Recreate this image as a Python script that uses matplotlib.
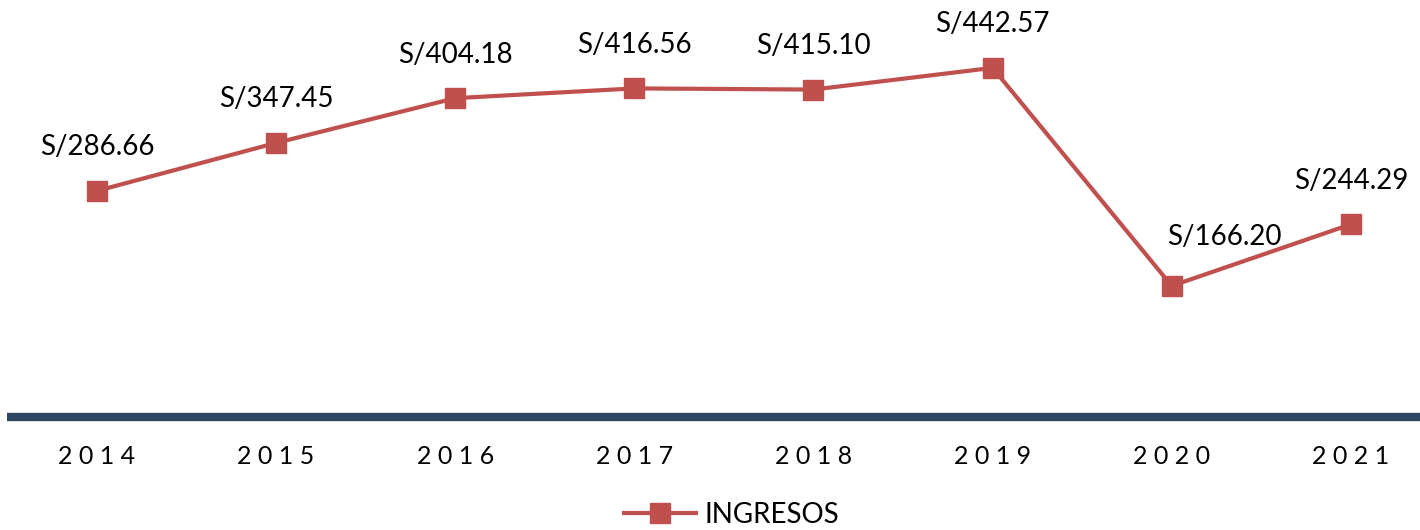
import matplotlib
matplotlib.use("Agg")
import matplotlib.pyplot as plt

plt.rcParams['font.family'] = ['Lato', 'DejaVu Sans']

# data
years = [2014, 2015, 2016, 2017, 2018, 2019, 2020, 2021]
ingresos = [286.66, 347.45, 404.18, 416.56, 415.10, 442.57, 166.20, 244.29]
series_name = 'INGRESOS'

red = '#C0504D'
navy = '#2C4561'

fig = plt.figure(figsize=(14.2, 5.3), dpi=100)
ax = fig.add_axes([0.0052, 0.2132, 1.0092, 0.7442])

x = list(range(len(years)))
ax.plot(x, ingresos, color=red, lw=3, marker='s', markersize=14,
        label=series_name, solid_joinstyle='miter')

# value labels above each point (the 2020 one sits up and to the right)
for xi, v in zip(x, ingresos):
    off = (38, 26) if xi == 6 else (0, 22)
    ax.annotate(f'S/{v:.2f}', (xi, v), xytext=off, textcoords='offset points',
                ha='center', va='bottom', fontsize=20, color='black')

ax.set_xlim(-0.5, 7.5)
ax.set_ylim(0, 500)
ax.set_xticks(x)
ax.set_xticklabels([' '.join(str(y)) for y in years], fontsize=18)
ax.tick_params(axis='x', length=0, pad=20)
ax.set_yticks([])

for s in ['top', 'right', 'left']:
    ax.spines[s].set_visible(False)
ax.spines['bottom'].set_color(navy)
ax.spines['bottom'].set_linewidth(6)
ax.spines['bottom'].set_capstyle('butt')

fig.legend(loc='center', bbox_to_anchor=(0.515, 0.028), frameon=False,
           fontsize=20, handlelength=2.6, handletextpad=0.3)

fig.savefig('out.png', dpi=100)
